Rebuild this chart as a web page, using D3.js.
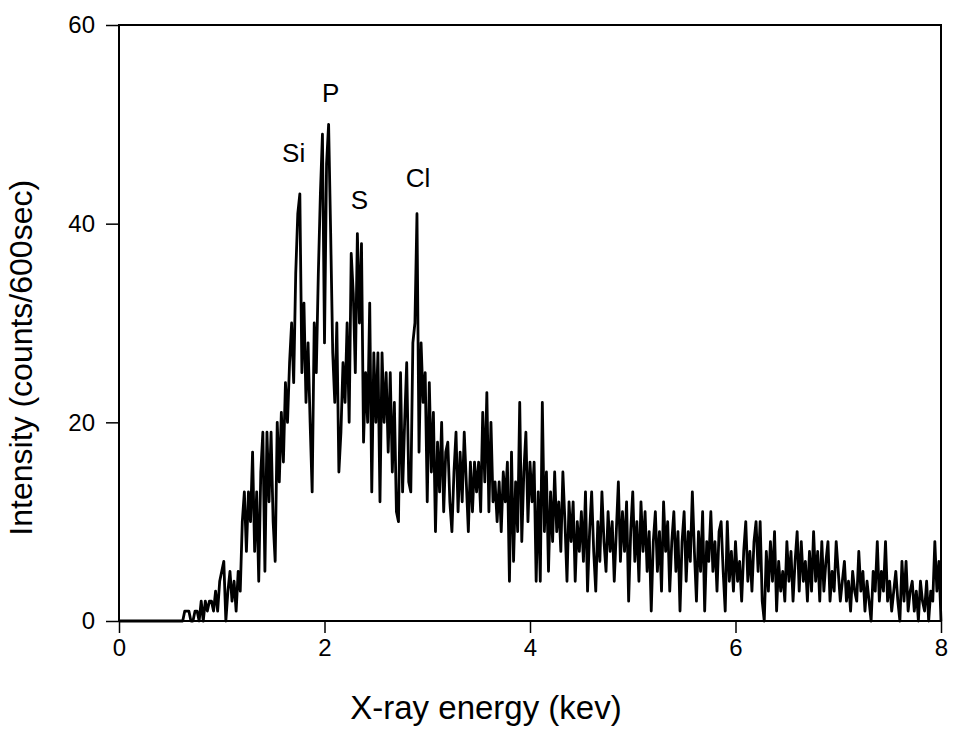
<!DOCTYPE html>
<html>
<head>
<meta charset="utf-8">
<script src="https://cdn.jsdelivr.net/npm/d3@7"></script>
<style>
  body { margin: 0; background: #fff; }
  svg text { font-family: "Liberation Sans", Arial, sans-serif; fill: #000; }
</style>
</head>
<body>
<svg id="chart" width="955" height="731"></svg>
<script>
// spectrum counts, one per 0.02 kev bin from 0.00 to 8.00
const energyStep = 0.02;
const counts = [
  0,0,0,0,0,0,0,0,0,0, 0,0,0,0,0,0,0,0,0,0, 0,0,0,0,0,0,0,0,0,0,   // 0.00 - 0.58
  0,0,1,1,1,0,0,1,1,0,          // 0.60
  2,0,2,1,2,2,1,3,1,4,          // 0.80
  5,6,0,3,5,2,4,1,5,3,          // 1.00
  10,13,7,13,10,17,7,13,4,15,   // 1.20
  19,5,19,12,19,10,6,20,14,21,  // 1.40
  16,24,20,26,30,24,35,41,43,25,// 1.60
  32,22,28,20,13,30,25,35,43,49,// 1.80
  28,46,50,39,27,22,30,15,19,26,// 2.00
  22,30,20,37,33,25,39,30,38,18,// 2.20
  25,20,32,13,27,20,27,12,27,20,// 2.40
  25,17,25,15,22,11,10,25,13,20,// 2.60
  26,14,13,28,30,41,17,28,22,25,// 2.80
  12,24,15,21,9,18,13,20,11,17, // 3.00
  18,12,9,15,19,11,17,12,19,14, // 3.20
  9,16,11,16,13,16,11,21,14,23, // 3.40
  11,20,12,14,10,14,9,15,12,16, // 3.60
  4,17,6,14,9,22,8,15,19,10,    // 3.80
  16,12,16,4,13,4,22,9,15,5,    // 4.00
  13,8,15,9,12,7,15,10,4,12,    // 4.20
  8,12,4,10,7,11,6,13,3,9,      // 4.40
  13,7,3,10,6,13,8,5,11,7,      // 4.60
  10,4,9,14,6,11,7,12,2,9,      // 4.80
  13,6,10,4,12,7,11,5,9,1,      // 5.00
  8,11,5,9,3,12,7,10,3,8,       // 5.20
  11,5,9,1,8,11,4,9,6,13,       // 5.40
  7,2,9,5,11,1,8,6,11,5,        // 5.60
  8,3,9,10,5,1,10,4,7,3,        // 5.80
  8,4,6,2,7,10,4,7,3,8,         // 6.00
  10,5,10,2,0,7,3,8,4,9,        // 6.20
  1,6,3,5,2,8,4,7,2,6,          // 6.40
  9,3,8,4,6,2,7,3,9,4,          // 6.60
  7,2,8,3,6,8,2,5,3,8,          // 6.80
  5,2,4,6,2,4,1,5,3,2,          // 7.00
  7,3,5,1,4,2,0,5,3,8,          // 7.20
  2,5,3,8,2,4,1,3,5,2,          // 7.40
  0,6,2,6,1,3,4,1,3,0,          // 7.60
  4,2,1,4,0,3,2,8,3,6,          // 7.80
  0                             // 8.00
];

const xTicks = [0, 2, 4, 6, 8];
const yTicks = [0, 20, 40, 60];

const peakNames = ["Si", "P", "S", "Cl"];
const peakEnergy = [1.70, 2.06, 2.34, 2.91];
const peakCount = [46.2, 52.2, 41.5, 43.7];

const margin = {top: 25, right: 14, bottom: 110, left: 119};
const svg = d3.select("#chart");
const width = +svg.attr("width") - margin.left - margin.right;
const height = +svg.attr("height") - margin.top - margin.bottom;

const x = d3.scaleLinear().domain([0, 8]).range([0, width]);
const y = d3.scaleLinear().domain([0, 60]).range([height, 0]);

const g = svg.append("g").attr("transform", `translate(${margin.left},${margin.top})`);

const line = d3.line()
  .x((d, i) => x(i * energyStep))
  .y(d => y(d));

g.append("path")
  .datum(counts)
  .attr("fill", "none")
  .attr("stroke", "#000")
  .attr("stroke-width", 2.8)
  .attr("stroke-linejoin", "round")
  .attr("d", line);

// frame
g.append("rect")
  .attr("width", width).attr("height", height)
  .attr("fill", "none").attr("stroke", "#000").attr("stroke-width", 2);

const xAxis = g.append("g")
  .attr("transform", `translate(0,${height})`)
  .call(d3.axisBottom(x).tickValues(xTicks).tickFormat(d3.format("d")).tickSize(12).tickPadding(6));

const yAxis = g.append("g")
  .call(d3.axisLeft(y).tickValues(yTicks).tickFormat(d3.format("d")).tickSize(13).tickPadding(11));

[xAxis, yAxis].forEach(a => {
  a.select(".domain").remove();
  a.selectAll(".tick line").attr("stroke", "#000").attr("stroke-width", 1.5);
  a.selectAll(".tick text").attr("font-size", 24).style("font-family", "Liberation Sans, Arial, sans-serif");
});

g.append("text")
  .attr("x", 486 - margin.left)
  .attr("y", height + 98)
  .attr("text-anchor", "middle")
  .attr("font-size", 33)
  .text("X-ray energy (kev)");

g.append("text")
  .attr("transform", `translate(${-87},${y(26.5)}) rotate(-90)`)
  .attr("text-anchor", "middle")
  .attr("font-size", 32)
  .text("Intensity (counts/600sec)");

g.selectAll(".peak")
  .data(peakNames)
  .enter().append("text")
  .attr("class", "peak")
  .attr("x", (d, i) => x(peakEnergy[i]))
  .attr("y", (d, i) => y(peakCount[i]))
  .attr("text-anchor", "middle")
  .attr("font-size", 26)
  .text(d => d);
</script>
</body>
</html>
